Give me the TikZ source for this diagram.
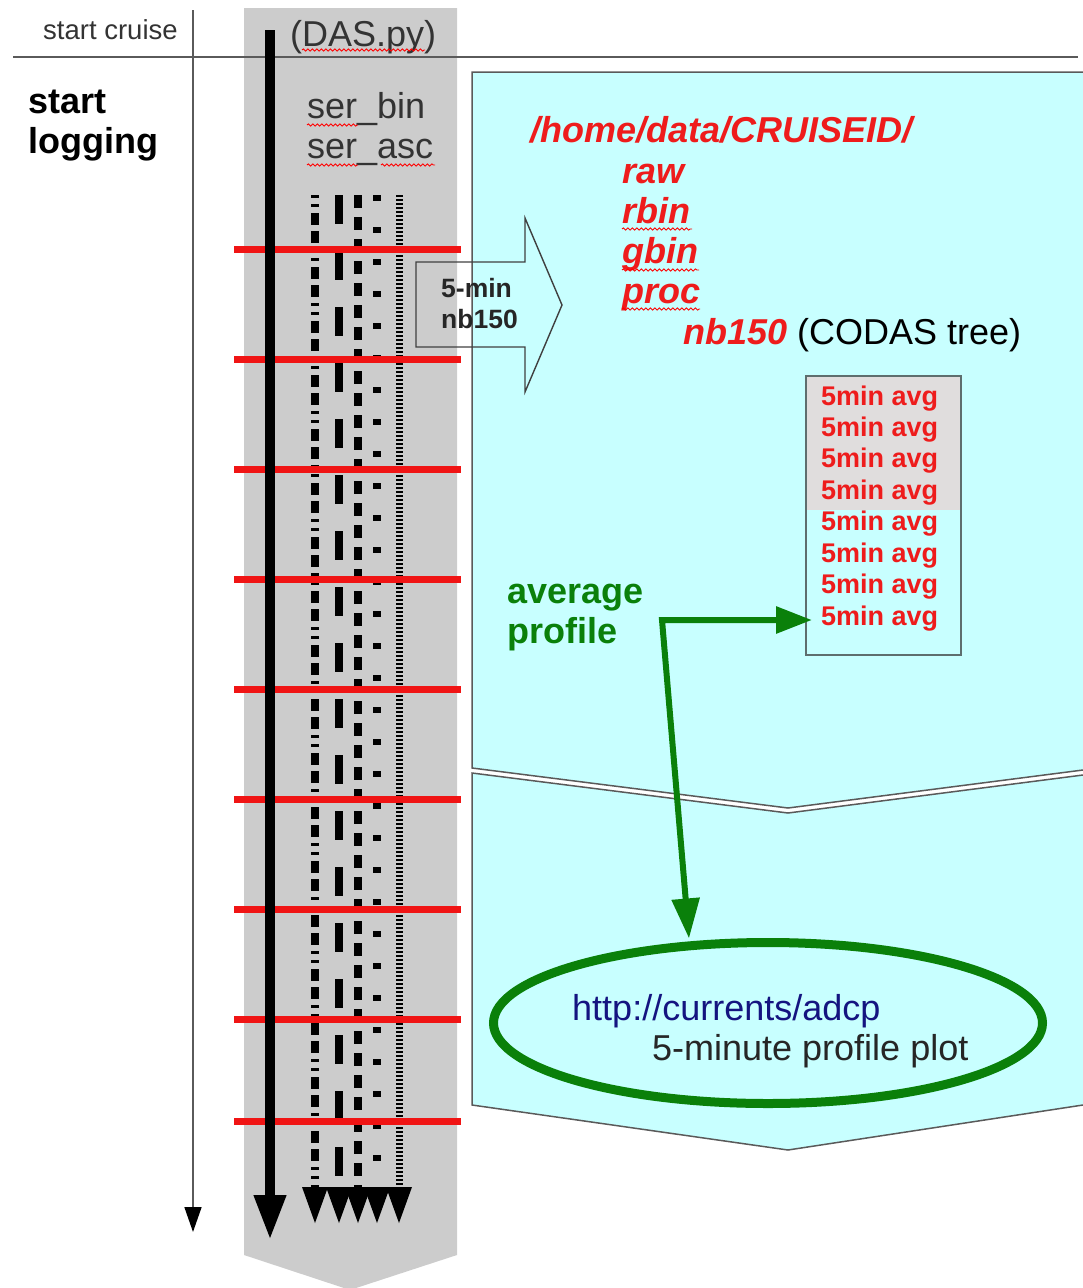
\documentclass[tikz,border=0pt]{standalone}
\usepackage{fontspec}
\setmainfont{Liberation Sans}
\usetikzlibrary{arrows.meta,shapes.geometric,decorations.pathmorphing}
\definecolor{cyanbg}{HTML}{C8FFFF}
\definecolor{colgray}{HTML}{CCCCCC}
\definecolor{boxgray}{HTML}{E0DDDD}
\definecolor{txtred}{HTML}{EE1C1C}
\definecolor{linered}{HTML}{F01414}
\definecolor{grn}{HTML}{0A800A}
\definecolor{navy}{HTML}{141480}
\definecolor{edge}{HTML}{5A5A5A}
\definecolor{boxedge}{HTML}{5E6E6E}
\begin{document}
\begin{tikzpicture}[x=1pt,y=-1pt,
  lbl/.style={inner sep=0pt, anchor=base west},
  big/.style={font=\fontsize{36}{40}\selectfont},
  bigb/.style={font=\fontsize{36}{40}\selectfont\bfseries},
  redit/.style={lbl, font=\fontsize{36}{40}\selectfont\bfseries\itshape, text=txtred},
  avg/.style={lbl, font=\fontsize{27}{30}\selectfont\bfseries, text=txtred},
  smallb/.style={lbl, font=\fontsize{26.5}{30}\selectfont\bfseries, text=black!85},
  redbar/.style={draw=linered, line width=7pt},
  squig/.style={draw=red, line width=0.9pt, decorate, decoration={snake, amplitude=1.1pt, segment length=4.5pt}},
  panel/.style={draw=edge, line width=1.5pt},
  dhead/.style={fill=black},
]
\useasboundingbox (0,0) rectangle (1083,1288);

% gray column
\fill[colgray] (244,8) -- (457,8) -- (457,1255) -- (350,1290) -- (244,1255) -- cycle;

% cyan panels
\fill[cyanbg] (472,72) -- (1083,72) -- (1083,770) -- (788,808) -- (472,768) -- cycle;
\draw[panel] (1083,72) -- (472,72) -- (472,768) -- (788,808) -- (1083,770);
\fill[cyanbg] (472,773) -- (788,813) -- (1083,775) -- (1083,1105) -- (788,1150) -- (472,1105) -- cycle;
\draw[panel] (1083,775) -- (788,813) -- (472,773) -- (472,1105) -- (788,1150) -- (1083,1105);

% horizontal divider
\coordinate (hl) at (13,57);
\coordinate (hr) at (1078,57);
\draw[panel] (hl) -- (hr);

% time arrow
\coordinate (ttop) at (193,10);
\coordinate (tbot) at (193,1232);
\draw[draw=edge, line width=1.6pt, -{Triangle[length=25pt,width=17pt,color=black]}] (ttop) -- (tbot);

% data streams
\draw[line width=7.5pt, dash pattern=on 3pt off 6pt on 3pt off 6pt on 12pt off 6pt on 12pt off 6pt] (315,195) -- (315,1190);
\draw[line width=7.5pt, dash pattern=on 29pt off 27pt] (339,195) -- (339,1190);
\draw[line width=8pt, dash pattern=on 13pt off 9pt] (358,195) -- (358,1190);
\draw[line width=7.5pt, dash pattern=on 6pt off 26pt] (377,195) -- (377,1190);
\draw[line width=7pt, dash pattern=on 2pt off 2pt] (399,195) -- (399,1190);
\foreach \x in {315,339,358,377,399}
  \fill[dhead] (\x-13,1187) -- (\x+13,1187) -- (\x,1223) -- cycle;

% red bars
\foreach \y in {249,359,469,579,689,799,909,1019,1121}
  \draw[redbar] (234,\y) -- (461,\y);

% thick logging arrow
\coordinate (ltop) at (270,30);
\coordinate (lbot) at (270,1240);
\draw[line width=10pt, -{Triangle[length=45pt,width=30pt]}] (ltop) -- (lbot);

% hollow block arrow
\draw[draw=black!75, line width=1.4pt, line join=miter]
  (416,262) -- (525,262) -- (525,218) -- (562,305) -- (525,392) -- (525,347) -- (416,347) -- cycle;
\node[smallb] (fm) at (441,297) {5-min};
\node[smallb] (fnb) at (441,328) {nb150};

% left texts
\node[lbl, font=\fontsize{27.5}{30}\selectfont, text=black!80] (cruise) at (43,39) {start cruise};
\node[lbl, bigb] (start) at (28,113) {start};
\node[lbl, bigb] (logging) at (28,153) {logging};
\node[lbl, big, text=black!80] (das) at (290,46) {(DAS.py)};
\node[lbl, big, text=black!80] (serbin) at (307,118) {ser\_bin};
\node[lbl, big, text=black!80] (serasc) at (307,158) {ser\_asc};

% directory tree
\node[redit] (home) at (530,142) {/home/data/CRUISEID/};
\node[redit] (raw) at (622,183) {raw};
\node[redit] (rbin) at (622,223) {rbin};
\node[redit] (gbin) at (622,263) {gbin};
\node[redit] (proc) at (622,303) {proc};
\node[redit] (nb) at (683,344) {nb150};
\node[lbl, big, text=black] (codas) at (797,344) {(CODAS tree)};

% 5 min avg box
\fill[boxgray] (807,377) rectangle (961,510);
\node[draw=boxedge, line width=2pt, inner sep=0pt, minimum width=155pt, minimum height=279pt] (avgbox) at (883.5,515.5) {};
\foreach \i in {1,...,8}
  \node[avg] (avg\i) at (821,{405+31.43*(\i-1)}) {5min avg};

% average profile
\node[lbl, bigb, text=grn] (average) at (507,603) {average};
\node[lbl, bigb, text=grn] (profile) at (507,643) {profile};

% ellipse
\node[ellipse, draw=grn, line width=9pt, inner sep=0pt, minimum width=549pt, minimum height=161pt] (plot) at (768,1023) {};
\node[lbl, big, text=navy] (url) at (572,1020) {http://currents/adcp};
\node[lbl, big, text=black!85] (plotlbl) at (652,1060) {5-minute profile plot};

% green arrows
\coordinate (gj) at (662,620);
\draw[grn, line width=6pt, line join=miter,
  {Triangle[length=40pt,width=27pt]}-{Triangle[length=36pt,width=26pt]}, shorten <=3pt]
  (plot.134) -- (gj) -- ([xshift=-9pt]gj -| avg8.west);

% spell-check squiggles
\draw[squig] (302,50) -- (425,50);
\draw[squig] (307,125) -- (358,125);
\draw[squig] (307,165) -- (358,165);
\draw[squig] (381,165) -- (435,165);
\draw[squig] (622,229) -- (692,229);
\draw[squig] (622,270) -- (699,270);
\draw[squig] (622,309) -- (700,309);
\end{tikzpicture}
\end{document}
